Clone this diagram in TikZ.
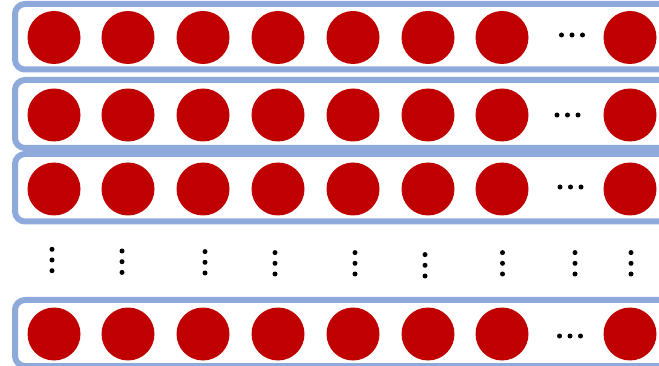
\documentclass[tikz,border=0pt]{standalone}
\definecolor{rowblue}{HTML}{8EAADB}
\definecolor{ballred}{HTML}{C00000}
\tikzset{
  rowbox/.style={draw=rowblue, line width=6pt, rounded corners=10pt, rectangle, inner sep=0pt, outer sep=0pt, minimum width=705pt},
  ball/.style={circle, fill=ballred, minimum size=53pt, inner sep=0pt},
  dotmark/.style={circle, fill=black, minimum size=5pt, inner sep=0pt}
}
\begin{document}
\begin{tikzpicture}[x=1pt,y=-1pt]
\useasboundingbox (0,0) rectangle (659,366);
\clip (0,0) rectangle (659,366);
% row boxes
\node[rowbox, minimum height=65.5pt] (r1) at (367.5,36.75) {};
\node[rowbox, minimum height=68pt] (r2) at (367.5,114) {};
\node[rowbox, minimum height=67.5pt] (r3) at (367.5,187.75) {};
\node[rowbox, minimum height=66pt] (r4) at (367.5,333) {};
% balls
\foreach \r/\yy in {1/37.5, 2/115, 3/189, 4/334} {
  \foreach \xx [count=\i] in {54,128,203,278,353,428,502,630} {
    \node[ball] (b\r-\i) at (\xx,\yy) {};
  }
}
% horizontal dots
\foreach \r/\xx/\yy in {1/572/35, 2/567.5/115, 3/570.5/187, 4/570/336} {
  \node[dotmark] (h\r-a) at ({\xx-10.5},\yy) {};
  \node[dotmark] (h\r-b) at (\xx,\yy) {};
  \node[dotmark] (h\r-c) at ({\xx+10.5},\yy) {};
}
% vertical dots
\foreach \xx/\yy [count=\i] in {52/260, 122/261.7, 205/262.3, 275/263.3, 355/263.3, 425/265.3, 502.5/263.3, 575/263.3, 631/263.3} {
  \node[dotmark] (v\i-a) at (\xx,{\yy-10.7}) {};
  \node[dotmark] (v\i-b) at (\xx,\yy) {};
  \node[dotmark] (v\i-c) at (\xx,{\yy+10.7}) {};
}
\end{tikzpicture}
\end{document}
